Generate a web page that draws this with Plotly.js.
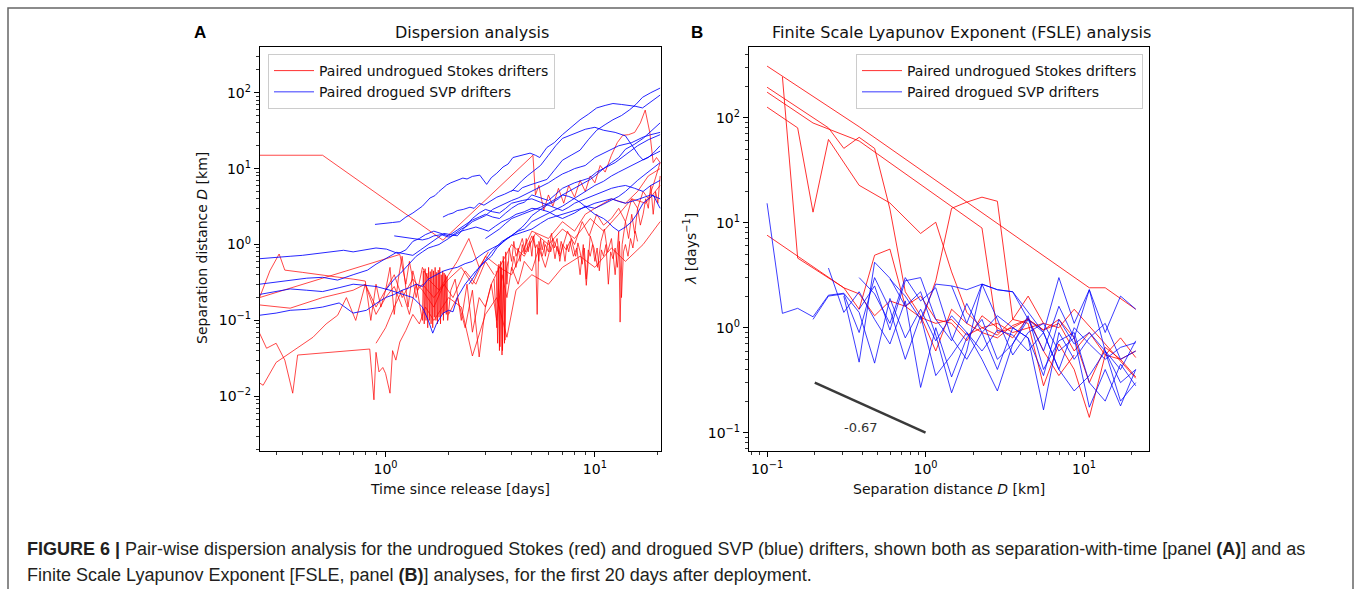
<!DOCTYPE html>
<html><head><meta charset="utf-8">
<script src="https://cdn.plot.ly/plotly-3.0.1.min.js"></script>
<style>html,body{margin:0;padding:0;background:#fff;} #chart{width:1357px;height:589px;}</style>
</head><body><div id="chart"></div>
<script>
// ---------------- Panel A : separation distance vs time ----------------
// Red: paired undrogued Stokes drifters (t in days, D in km)
const ra1_t = [0.25, 0.5, 1.88, 5.06, 5.2, 5.4, 5.7, 6.0, 6.3, 6.7, 7.1, 7.5, 8.0, 8.5, 9.0, 9.5, 10.0, 10.6, 11.2, 12.0, 12.8, 13.6, 14.5, 15.5, 16.5, 17.4, 18.3, 19.0, 19.7, 20.5];
const ra1_d = [15, 15, 1.14, 15, 4.5, 6, 2.8, 4.5, 3.2, 5.5, 3.5, 6, 4.2, 7, 5, 8, 6.5, 11, 9, 15, 22, 27.5, 28, 30, 40, 59, 30, 12, 14, 12];
const ra2_t = [0.25, 0.28, 0.31, 0.33, 0.4, 0.5, 0.6, 0.7, 0.8, 0.85, 0.9, 0.95, 1.0, 1.05, 1.1, 1.15, 1.2, 1.28, 1.35, 1.42, 1.5, 1.7, 2.0, 2.3, 2.6, 3.0, 3.5, 4.0, 4.6, 5.2, 6.0, 7.0, 8.0, 9.5, 11, 13, 15, 17.5, 20.5];
const ra2_d = [0.2, 0.45, 0.75, 0.46, 0.43, 0.4, 0.37, 0.35, 0.33, 0.1, 0.3, 0.15, 0.25, 0.5, 0.12, 0.35, 0.7, 0.15, 0.45, 0.25, 0.3, 0.2, 0.35, 0.5, 0.3, 0.7, 0.5, 1.0, 0.7, 1.4, 1.0, 1.6, 1.2, 2.2, 1.5, 2.5, 4.0, 3.5, 6.0];
const ra3_t = [3.3, 3.4, 3.45, 3.5, 3.55, 3.6, 3.65, 3.7, 3.75, 3.8, 3.9, 4.0, 4.1, 4.2, 4.35, 4.5, 4.65, 4.8, 5.0, 5.2, 5.3, 5.4, 5.6, 5.8, 6.0, 6.2, 6.4, 6.6, 6.8, 7.0, 7.3, 7.6, 7.9, 8.2, 8.5, 8.8, 9.1, 9.5, 9.9, 10.3, 10.7, 11.1, 11.5, 12.0, 12.5, 13.0, 13.2, 13.5, 14.0, 14.5, 15.0, 15.5, 16.0, 16.5, 17.0, 17.5, 18.0, 18.5, 19.0, 19.5, 20.0, 20.5];
const ra3_d = [0.35, 0.08, 0.5, 0.04, 0.6, 0.035, 0.7, 0.05, 0.8, 0.3, 0.9, 0.6, 1.1, 0.7, 0.9, 1.2, 0.8, 1.0, 1.3, 0.9, 0.12, 1.1, 0.7, 1.0, 0.8, 1.4, 0.9, 1.2, 0.6, 1.0, 0.85, 1.1, 0.7, 0.9, 0.4, 1.0, 0.29, 1.3, 0.9, 0.5, 1.1, 1.6, 0.8, 1.2, 0.4, 1.5, 0.095, 1.0, 2.0, 1.2, 2.5, 1.4, 3.0, 1.8, 2.5, 4.0, 3.0, 6.0, 2.5, 5.0, 3.5, 8.0];
const ra4_t = [0.9, 1.0, 1.1, 1.2, 1.3, 1.4, 1.5, 1.515, 1.53, 1.545, 1.56, 1.575, 1.59, 1.605, 1.62, 1.635, 1.65, 1.665, 1.68, 1.695, 1.71, 1.725, 1.74, 1.755, 1.77, 1.785, 1.8, 1.815, 1.83, 1.845, 1.86, 1.875, 1.89, 1.905, 1.92, 1.935, 1.95, 1.965, 1.98, 2.05, 2.15, 2.3, 2.45, 2.6, 2.8, 3.0, 3.2, 3.5, 4.0, 4.5, 5.0, 6.0, 7.0, 8.0, 9.0, 10.0, 12.0, 14.0, 16.0, 18.0, 20.5];
const ra4_d = [0.05, 0.08, 0.15, 0.25, 0.12, 0.3, 0.1, 0.45, 0.09, 0.48, 0.1, 0.42, 0.08, 0.5, 0.1, 0.44, 0.09, 0.47, 0.08, 0.45, 0.11, 0.5, 0.1, 0.43, 0.09, 0.46, 0.11, 0.5, 0.09, 0.4, 0.12, 0.45, 0.1, 0.42, 0.13, 0.4, 0.12, 0.38, 0.1, 0.25, 0.35, 0.1, 0.3, 0.07, 0.2, 0.15, 0.3, 0.5, 0.4, 0.8, 1.5, 1.2, 2.0, 1.5, 2.5, 3.0, 4.0, 3.5, 5.0, 8.0, 10.0];
const ra5_t = [0.25, 0.27, 0.3, 0.33, 0.36, 0.38, 0.84, 0.88, 0.9, 0.93, 0.97, 1.0, 1.05, 1.08, 1.12, 1.17, 1.25, 1.35, 1.45, 1.55, 1.7, 2.0, 2.3, 2.6, 3.0, 3.4, 3.8, 4.2, 5.0, 6.0, 7.0, 8.5, 10.0, 12.0, 14.0, 17.0, 20.5];
const ra5_d = [0.068, 0.043, 0.05, 0.03, 0.011, 0.035, 0.042, 0.009, 0.038, 0.021, 0.024, 0.02, 0.011, 0.04, 0.03, 0.052, 0.074, 0.12, 0.09, 0.15, 0.1, 0.2, 0.15, 0.034, 0.12, 0.2, 0.06, 0.25, 0.4, 0.3, 0.5, 0.7, 0.5, 0.9, 0.6, 1.0, 2.0];
const ra6_t = [0.25, 0.26, 0.3, 0.38, 0.45, 0.52, 0.59, 0.65, 0.72, 0.8, 0.9, 1.0, 1.1, 1.2, 1.35, 1.5, 1.7, 1.9, 2.1, 2.4, 2.7, 3.0, 3.3];
const ra6_d = [0.015, 0.014, 0.028, 0.043, 0.06, 0.09, 0.117, 0.2, 0.1, 0.3, 0.15, 0.25, 0.4, 0.2, 0.35, 0.25, 0.15, 0.3, 0.2, 0.45, 0.3, 0.6, 0.4];
const ra7_t = [0.25, 1.17, 1.25, 1.3, 1.4, 1.5, 1.6, 1.8, 2.0, 2.2, 2.5, 2.8, 3.1];
const ra7_d = [0.2, 0.74, 0.3, 0.6, 0.2, 0.5, 0.35, 0.25, 0.4, 0.6, 1.2, 0.5, 0.8];
const ra8_t = [0.25, 0.3, 0.35, 0.5, 0.7, 0.8, 0.9, 1.0, 1.1, 1.2];
const ra8_d = [0.16, 0.15, 0.145, 0.2, 0.25, 0.3, 0.12, 0.2, 0.28, 0.15];
const ra9_t = [2.0, 2.2, 2.4, 2.6, 2.8, 3.0, 3.2, 3.4, 3.6, 3.8, 4.0, 4.3, 4.6, 5.0, 5.4, 5.8, 6.3, 6.8, 7.4, 8.0, 8.7, 9.4, 10.2, 11, 12, 13, 14, 15, 16, 17, 18, 19, 20.5];
const ra9_d = [0.12, 0.2, 0.08, 0.25, 0.033, 0.15, 0.3, 0.1, 0.4, 0.2, 0.5, 0.3, 0.6, 0.45, 0.9, 0.5, 1.2, 0.7, 1.5, 1.0, 2.0, 1.3, 2.5, 1.8, 2.2, 3.0, 2.0, 4.0, 3.0, 5.0, 4.0, 6.0, 12];
const ra10_t = [4.0, 4.1, 4.2, 4.3, 4.4, 4.5, 4.6, 4.7, 4.8, 4.9, 5.0, 5.1, 5.2, 5.3, 5.4, 5.5, 5.6, 5.7, 5.8, 5.9, 6.0, 6.15, 6.3, 6.45, 6.6, 6.75, 6.9, 7.05, 7.2, 7.35, 7.5, 7.7, 7.9, 8.1, 8.3, 8.5, 8.7, 8.9, 9.1, 9.3, 9.5, 9.75, 10.0, 10.25, 10.5, 10.75, 11.0, 11.3, 11.6, 11.9, 12.2, 12.5, 12.8, 13.1, 13.4, 13.7, 14.0, 14.4, 14.8, 15.2, 15.6, 16.0];
const ra10_d = [0.45, 0.7, 0.5, 0.9, 0.6, 1.0, 0.75, 1.2, 0.8, 1.1, 0.7, 1.3, 0.9, 1.0, 0.6, 1.2, 0.85, 1.1, 0.7, 0.95, 1.15, 0.8, 1.0, 0.65, 0.95, 0.75, 1.1, 0.9, 0.6, 1.0, 0.8, 1.2, 0.9, 0.7, 1.05, 0.8, 0.55, 0.9, 0.35, 0.85, 0.7, 1.0, 0.6, 0.9, 0.45, 0.85, 0.7, 1.0, 0.3, 0.8, 0.65, 0.9, 0.5, 1.1, 0.2, 0.8, 1.0, 0.7, 1.2, 0.9, 1.5, 1.1];
const ra11_t = [3.38, 3.43, 3.48, 3.52, 3.57, 3.62, 3.67, 3.72, 3.77, 3.85];
const ra11_d = [0.45, 0.05, 0.55, 0.045, 0.5, 0.04, 0.6, 0.055, 0.45, 0.6];

// Blue: paired drogued SVP drifters
const ba1_t = [0.89, 1.0, 1.08, 1.17, 1.25, 1.35, 1.42, 1.5, 1.63, 1.72, 1.8, 1.96, 2.05, 2.15, 2.34, 2.45, 2.6, 2.82, 3.04, 3.2, 3.4, 3.64, 3.85, 4.06, 4.3, 4.5, 4.9, 5.2, 5.45, 5.9, 6.4, 7.0, 7.7, 8.5, 9.3, 10.2, 11.2, 12.2, 13.4, 14.6, 15.7, 16.9, 18.5, 20.5];
const ba1_d = [1.84, 1.88, 1.95, 2.0, 2.3, 2.6, 2.9, 3.2, 4.1, 4.4, 5.0, 6.1, 6.5, 6.8, 7.5, 7.3, 7.9, 8.2, 6.2, 7.6, 8.7, 10.5, 11.5, 14, 14.5, 15, 16, 15, 14, 19, 22, 28, 35, 44, 52, 63, 68, 72, 70, 68, 66, 63, 75, 93];
const ba2_t = [1.88, 2.0, 2.1, 2.2, 2.35, 2.53, 2.65, 2.8, 2.95, 3.1, 3.25, 3.4, 3.7, 4.06, 4.3, 4.5, 4.9, 5.4, 5.9, 6.4, 7.0, 7.7, 8.5, 9.3, 10.2, 11.2, 12.2, 13.4, 14.6, 15.7, 16.9, 18.5, 20.5];
const ba2_d = [2.3, 2.5, 2.6, 2.8, 2.9, 3.1, 3.0, 3.5, 3.3, 3.6, 3.9, 4.2, 4.6, 5.2, 5.0, 5.6, 6.1, 6.6, 7.2, 9.5, 12.9, 15, 17.5, 24, 32, 38, 44, 50, 59, 70, 87, 100, 115];
const ba3_t = [0.25, 0.3, 0.35, 0.4, 0.47, 0.55, 0.63, 0.7, 0.8, 0.9, 1.01, 1.08, 1.15, 1.25, 1.35, 1.45, 1.55, 1.7, 1.85, 2.0, 2.2, 2.4, 2.6, 2.8, 3.0, 3.25, 3.5, 3.75, 4.0, 4.3, 4.6, 5.0, 5.5, 6.0, 6.5, 7.0, 7.5, 8.0, 8.7, 9.4, 10.2, 11.0, 12.0, 13.0, 14.0, 15.5, 17.0, 18.5, 20.5];
const ba3_d = [0.65, 0.67, 0.7, 0.72, 0.76, 0.8, 0.84, 0.8, 0.86, 0.9, 0.87, 0.82, 0.76, 0.85, 1.1, 1.2, 1.35, 1.5, 1.4, 1.3, 1.55, 1.8, 2.1, 2.3, 2.5, 2.3, 2.2, 2.6, 3.0, 3.4, 3.6, 4.5, 4.1, 3.8, 4.6, 5.5, 6.0, 6.5, 7.0, 7.5, 9, 10, 12, 14, 18, 21, 25, 31, 40];
const ba4_t = [0.25, 0.3, 0.35, 0.42, 0.5, 0.59, 0.7, 0.82, 0.9, 0.97, 1.05, 1.13, 1.25, 1.35, 1.47, 1.6, 1.75, 1.9, 2.05, 2.2, 2.4, 2.6, 2.8, 3.0, 3.25, 3.5, 3.75, 4.0, 4.5, 5.0, 5.5, 6.0, 6.5, 7.0, 7.5, 8.0, 9.0, 10.0, 11.0, 12.0, 13.0, 14.0, 15.5, 17.0, 18.5, 20.5];
const ba4_d = [0.3, 0.32, 0.34, 0.36, 0.37, 0.34, 0.4, 0.46, 0.55, 0.62, 0.7, 0.79, 0.75, 0.72, 0.85, 1.0, 1.2, 1.4, 1.35, 1.3, 1.7, 2.2, 2.6, 2.9, 2.7, 2.6, 3.0, 3.5, 3.8, 4.0, 3.6, 3.3, 3.0, 2.8, 3.1, 3.5, 4.0, 4.5, 5.0, 5.5, 5.8, 6.0, 5.5, 5.0, 6.0, 7.0];
const ba5_t = [0.25, 0.3, 0.35, 0.42, 0.5, 0.6, 0.7, 0.81, 0.91, 1.0, 1.1, 1.2, 1.3, 1.4, 1.5, 1.6, 1.75, 1.9, 2.05, 2.2, 2.4, 2.6, 2.8, 3.0, 3.25, 3.5, 3.75, 4.0, 4.5, 5.0, 5.5, 6.0, 6.5, 7.0, 8.0, 9.0, 10.0, 11.0, 12.0, 13.0, 14.0, 15.5, 17.0, 18.5, 20.5];
const ba5_d = [0.117, 0.125, 0.136, 0.14, 0.15, 0.17, 0.125, 0.136, 0.17, 0.2, 0.22, 0.25, 0.27, 0.3, 0.28, 0.35, 0.4, 0.45, 0.48, 0.5, 0.56, 0.6, 0.7, 0.8, 0.9, 1.0, 1.15, 1.3, 1.45, 1.6, 1.9, 2.2, 2.35, 2.5, 2.8, 3.1, 3.5, 3.8, 4.0, 3.7, 3.5, 3.8, 4.2, 4.5, 4.0];
const ba6_t = [0.25, 0.3, 0.35, 0.42, 0.5, 0.6, 0.7, 0.8, 0.9, 1.05, 1.2, 1.35, 1.5, 1.6, 1.68, 1.75, 1.88, 2.0, 2.1, 2.2, 2.4, 2.7, 3.0, 3.2, 3.4, 3.8, 4.3, 4.6, 5.0, 5.5, 6.0, 6.5, 7.0, 7.7, 8.5, 9.2, 10.0, 11.0, 12.0, 13.0, 14.0, 15.5, 17.0, 18.5, 20.5];
const ba6_d = [0.22, 0.24, 0.26, 0.25, 0.24, 0.27, 0.3, 0.29, 0.28, 0.25, 0.22, 0.2, 0.15, 0.1, 0.068, 0.09, 0.124, 0.136, 0.13, 0.2, 0.3, 0.45, 0.6, 0.7, 0.9, 1.2, 1.5, 1.6, 2.0, 2.3, 2.6, 2.9, 3.2, 3.8, 4.5, 5.2, 6, 6.8, 8, 9, 10, 11.5, 13, 15, 17];
const ba7_t = [1.0, 1.1, 1.18, 1.25, 1.32, 1.4, 1.5, 1.6, 1.7, 1.8, 1.9, 2.0, 2.15, 2.3, 2.45, 2.6, 2.8, 3.0, 3.25, 3.5, 3.75, 4.0, 4.3, 4.6, 5.0, 5.3, 5.7, 6.0, 6.5, 7.0, 7.5, 8.0, 8.5, 9.0, 10.0, 11.5, 13.0, 15.0, 17.0, 18.5, 20.5];
const ba7_d = [0.25, 0.35, 0.42, 0.5, 0.6, 0.7, 0.8, 0.9, 0.95, 1.0, 1.1, 1.2, 1.4, 1.6, 1.75, 2.0, 2.2, 2.4, 2.9, 3.2, 3.5, 3.8, 4.1, 4.5, 5.0, 5.5, 6.0, 6.5, 7.5, 8.5, 9.2, 10, 10.5, 11, 14, 17, 20, 22, 26, 28, 30];
const ba8_t = [1.1, 1.2, 1.3, 1.4, 1.5, 1.6, 1.7, 1.85, 2.0, 2.15, 2.3, 2.5, 2.7, 2.9, 3.1, 3.35, 3.6, 3.9, 4.2, 4.6, 5.0, 5.5, 6.0, 6.5, 7.0, 7.5, 8.0, 9.0, 10.0, 11.0, 12.0, 13.0, 14.0, 15.0, 16.0, 17.0, 18.0, 19.0, 20.5];
const ba8_d = [1.3, 1.25, 1.2, 1.18, 1.15, 1.2, 1.3, 1.35, 1.25, 1.35, 1.5, 1.6, 1.7, 1.6, 1.5, 1.75, 2.0, 2.2, 2.5, 2.7, 3.0, 2.9, 2.7, 2.4, 2.2, 2.4, 2.6, 3.2, 3.0, 3.4, 3.8, 4.3, 5, 6, 7, 8, 9, 10, 12];
const ba9_t = [2.5, 2.65, 2.8, 3.0, 3.2, 3.4, 3.6, 3.8, 4.0, 4.25, 4.5, 4.75, 5.0, 5.3, 5.6, 6.0, 6.3, 6.7, 7.0, 7.5, 8.0, 8.5, 9.0, 9.5, 10.0, 11.0, 12.5, 14.0, 16.0, 18.0, 20.5];
const ba9_d = [0.3, 0.38, 0.5, 0.62, 0.8, 0.95, 1.1, 1.2, 1.3, 1.5, 1.7, 2.0, 2.4, 2.7, 3.0, 3.4, 3.6, 4.0, 4.5, 5.0, 5.5, 6.0, 6.5, 7.2, 8, 10, 12, 15, 20, 24, 28];
const ba10_t = [3.0, 3.25, 3.5, 3.75, 4.0, 4.5, 5.0, 5.5, 6.0, 6.5, 7.0, 7.5, 8.0, 8.5, 9.0, 9.5, 10.0, 11.0, 11.5, 12.2, 13.0, 14.0, 15.0, 16.0, 17.0, 18.0, 19.0, 20.5];
const ba10_d = [1.2, 1.4, 1.6, 1.9, 2.2, 2.5, 2.8, 3.1, 3.5, 4.0, 4.5, 4.3, 4.0, 3.6, 3.2, 2.8, 2.5, 2.2, 2.0, 1.7, 1.5, 1.7, 2.0, 2.6, 3.5, 4.0, 4.5, 3.0];
const ba11_t = [4.0, 4.25, 4.5, 4.75, 5.0, 5.5, 6.0, 6.5, 7.0, 7.5, 8.0, 8.5, 9.0, 9.5, 10.0, 11.0, 12.5, 14.0, 15.5, 16.2, 17.0, 18.0, 19.0, 20.5];
const ba11_d = [5, 6, 7, 8, 9, 11, 15, 20, 25, 27, 29, 31, 33, 34, 35, 32, 30, 27, 18, 15, 13, 14, 16, 20];

// ---------------- Panel B : FSLE ----------------
const fsleBins = [0.1, 0.125, 0.156, 0.195, 0.244, 0.305, 0.381, 0.477, 0.596, 0.745, 0.931, 1.16, 1.46, 1.82, 2.27, 2.84, 3.55, 4.44, 5.55, 6.94, 8.67, 10.8, 13.6, 17.0, 21.2];
// Red (Stokes), each with its own scale list
const rb1_x = [0.1, 0.381, 10.8, 13.6, 21.2];
const rb1_y = [310, 82, 2.4, 2.4, 1.5];
const rb2_x = [0.1, 0.244, 0.305, 0.381, 0.477, 0.596, 0.745, 0.931, 1.16, 1.46, 1.82, 2.27, 2.84, 3.55, 4.44, 5.55, 6.94, 8.67, 10.8, 13.6, 17.0, 21.2];
const rb2_y = [195, 80, 51, 65, 51, 13.5, 2.2, 1.3, 0.6, 1.5, 1.1, 0.9, 0.8, 1.05, 1.2, 0.95, 1.1, 0.6, 0.9, 0.55, 0.8, 0.52];
const rb3_x = [0.1, 0.156, 0.195, 0.244, 0.381, 0.596, 0.931, 1.16, 1.46, 1.82, 2.27, 2.84, 3.55, 4.44, 5.55, 6.94, 8.67, 10.8, 13.6, 17.0, 21.2];
const rb3_y = [126, 80, 12.6, 62, 22.7, 15.4, 7.9, 10.1, 3.4, 1.4, 1.0, 0.85, 1.2, 1.1, 0.28, 0.7, 0.4, 0.14, 0.55, 0.5, 0.34];
const rb4_x = [0.125, 0.156, 0.305, 0.381, 0.477, 0.596, 0.745, 0.931, 1.16, 1.46, 1.82, 2.27, 2.84, 3.55, 4.44, 5.55, 6.94, 8.67];
const rb4_y = [245, 4.6, 2.4, 1.5, 4.9, 5.6, 1.6, 2.0, 1.2, 1.1, 0.75, 1.3, 1.0, 0.8, 1.25, 0.6, 0.35, 0.55];
const rb5_x = [0.1, 0.305, 0.381, 0.477, 0.596, 0.745, 0.931, 1.16, 1.46, 1.82, 2.27, 2.84, 3.55, 4.44, 5.55, 6.94, 8.67, 13.6, 21.2];
const rb5_y = [7.6, 2.4, 2.1, 1.3, 1.8, 1.6, 1.25, 1.1, 1.2, 0.85, 1.0, 1.1, 0.9, 1.0, 1.1, 1.0, 1.5, 0.7, 0.33];
const rb6_x = [0.1, 0.195, 0.381, 2.27, 2.84, 3.55, 4.44, 5.55, 6.94, 8.67, 10.8, 13.6, 17.0, 21.2];
const rb6_y = [175, 89, 60, 8.9, 0.9, 1.0, 1.2, 0.95, 1.2, 0.8, 0.3, 0.65, 0.5, 0.6];
const rb7_x = [0.931, 1.16, 1.46, 1.82, 2.27, 2.84, 3.55, 4.44, 5.55];
const rb7_y = [1.1, 2.8, 13.7, 15.7, 17.5, 16, 1.2, 2.0, 1.1];
// Blue (SVP), values on fsleBins (null = no value)
const bb1 = [15.3, 1.37, 1.53, 1.27, 2.04, 2.13, 1.4, 0.46, 1.9, 0.8, 1.5, 0.75, 1.3, 0.9, 0.6, 0.95, 0.85, 0.6, 0.9, 0.4, 1.0, 0.7, 0.5, 0.65, 0.72];
const bb2 = [null, null, null, null, 3.7, 1.4, 2.2, 1.2, 0.7, 1.8, 0.27, 1.0, 0.34, 0.8, 1.2, 0.5, 0.7, 1.3, 0.4, 0.75, 0.9, 0.3, 0.2, 0.45, 0.28];
const bb3 = [null, null, null, null, null, 2.0, 0.47, 4.2, 2.96, 1.6, 2.2, 0.85, 0.24, 0.6, 2.6, 1.2, 0.55, 0.9, 1.1, 0.6, 0.8, 0.175, 0.4, 0.18, 0.4];
const bb4 = [null, null, null, null, null, null, 3.0, 2.1, 1.1, 3.0, 1.8, 2.4, 0.8, 0.5, 0.9, 1.3, 1.0, 0.8, 0.165, 0.9, 0.5, 0.8, 1.1, 0.5, 0.6];
const bb5 = [null, null, null, null, null, null, null, null, 2.9, 2.0, 1.2, 2.6, 2.5, 1.1, 2.6, 2.3, 2.2, 1.2, 0.6, 1.6, 0.8, 2.3, 0.9, 2.0, 1.5];
const bb6 = [null, null, null, null, null, null, 1.5, 2.5, 0.95, 2.8, 3.0, 1.2, 0.75, 1.7, 0.9, 0.4, 1.0, 0.8, 0.35, 1.2, 0.7, 0.9, 0.6, 0.3, 0.4];
const bb7 = [null, null, null, null, null, null, null, null, null, null, null, null, 2.5, 2.3, 2.6, 2.3, 2.2, 1.4, 0.9, 3.0, 1.1, 2.3, 0.6, 0.4, 0.75];
const bb8 = [null, null, null, 1.2, 2.0, 2.1, 0.9, 3.0, 1.5, 0.5, 1.3, 0.35, 0.55, 0.9, 0.5, 0.25, 0.7, 1.2, 0.9, 0.4, 0.25, 0.35, 0.6, 0.2, 0.3];
// reference slope line (-0.67)
const slopeX = [0.2, 1.0];
const slopeY = [0.3, 0.1];
const slopeLabel = '-0.67';

// tick labels
const tickValsA_x = [1, 10];
const tickTextA_x = ['10<sup>0</sup>', '10<sup>1</sup>'];
const tickValsA_y = [0.01, 0.1, 1, 10, 100];
const tickTextA_y = ['10<sup>−2</sup>', '10<sup>−1</sup>', '10<sup>0</sup>', '10<sup>1</sup>', '10<sup>2</sup>'];
const tickValsB_x = [0.1, 1, 10];
const tickTextB_x = ['10<sup>−1</sup>', '10<sup>0</sup>', '10<sup>1</sup>'];
const tickValsB_y = [0.1, 1, 10, 100];
const tickTextB_y = ['10<sup>−1</sup>', '10<sup>0</sup>', '10<sup>1</sup>', '10<sup>2</sup>'];
const minorA_x = [0.3, 0.4, 0.5, 0.6, 0.7, 0.8, 0.9, 2, 3, 4, 5, 6, 7, 8, 9, 20];
const minorA_y = [0.002, 0.003, 0.004, 0.005, 0.006, 0.007, 0.008, 0.009, 0.02, 0.03, 0.04, 0.05, 0.06, 0.07, 0.08, 0.09, 0.2, 0.3, 0.4, 0.5, 0.6, 0.7, 0.8, 0.9, 2, 3, 4, 5, 6, 7, 8, 9, 20, 30, 40, 50, 60, 70, 80, 90, 200, 300];
const minorB_x = [0.08, 0.09, 0.2, 0.3, 0.4, 0.5, 0.6, 0.7, 0.8, 0.9, 2, 3, 4, 5, 6, 7, 8, 9, 20];
const minorB_y = [0.07, 0.08, 0.09, 0.2, 0.3, 0.4, 0.5, 0.6, 0.7, 0.8, 0.9, 2, 3, 4, 5, 6, 7, 8, 9, 20, 30, 40, 50, 60, 70, 80, 90, 200, 300, 400];

const legendNames = ['Paired undrogued Stokes drifters', 'Paired drogued SVP drifters'];

// ---------------- build ----------------
const W = 1357, H = 589;
const px = v => v / W, py = v => 1 - v / H;
const RED = 'rgba(255,0,0,0.9)', BLUE = 'rgba(0,0,255,0.85)';
const traces = [];
function line(x, y, color, w, xa, ya) {
  traces.push({x: x, y: y, type: 'scatter', mode: 'lines', xaxis: xa, yaxis: ya,
    line: {color: color, width: w}, showlegend: false, hoverinfo: 'skip', connectgaps: true});
}
[[ra1_t, ra1_d], [ra2_t, ra2_d], [ra3_t, ra3_d], [ra4_t, ra4_d], [ra5_t, ra5_d], [ra6_t, ra6_d], [ra7_t, ra7_d], [ra8_t, ra8_d], [ra9_t, ra9_d], [ra10_t, ra10_d], [ra11_t, ra11_d]]
  .forEach(p => line(p[0], p[1], RED, 0.8, 'x', 'y'));
[[ba1_t, ba1_d], [ba2_t, ba2_d], [ba3_t, ba3_d], [ba4_t, ba4_d], [ba5_t, ba5_d], [ba6_t, ba6_d], [ba7_t, ba7_d], [ba8_t, ba8_d], [ba9_t, ba9_d], [ba10_t, ba10_d], [ba11_t, ba11_d]]
  .forEach(p => line(p[0], p[1], BLUE, 1, 'x', 'y'));
[[rb1_x, rb1_y], [rb2_x, rb2_y], [rb3_x, rb3_y], [rb4_x, rb4_y], [rb5_x, rb5_y], [rb6_x, rb6_y], [rb7_x, rb7_y]]
  .forEach(p => line(p[0], p[1], RED, 0.9, 'x2', 'y2'));
[bb1, bb2, bb3, bb4, bb5, bb6, bb7, bb8].forEach(b => line(fsleBins, b, BLUE, 0.9, 'x2', 'y2'));
line(slopeX, slopeY, '#3a3a3a', 2.5, 'x2', 'y2');

// legend entries
[['x', 'y', 'legend'], ['x2', 'y2', 'legend2']].forEach(a => {
  traces.push({x: [null], y: [null], type: 'scatter', mode: 'lines', xaxis: a[0], yaxis: a[1], legend: a[2],
    name: legendNames[0], line: {color: '#ff3030', width: 1}});
  traces.push({x: [null], y: [null], type: 'scatter', mode: 'lines', xaxis: a[0], yaxis: a[1], legend: a[2],
    name: legendNames[1], line: {color: '#7a7aff', width: 1.6}});
});

const tickFont = {family: 'DejaVu Sans', size: 14, color: '#000'};
function axis(minorVals, extra) {
  return Object.assign({type: 'log', showline: true, mirror: true, linecolor: '#000', linewidth: 1.2,
    ticks: 'outside', ticklen: 5, tickwidth: 1, tickcolor: '#000', showgrid: false, zeroline: false,
    tickfont: tickFont, tickmode: 'array', fixedrange: true,
    minor: {tickmode: 'array', tickvals: minorVals, ticks: 'outside', ticklen: 2.5, tickwidth: 0.8, tickcolor: '#000', showgrid: false}}, extra);
}
const ann = (x, y, text, opt) => Object.assign({xref: 'paper', yref: 'paper', x: px(x), y: py(y), text: text,
  xanchor: 'center', yanchor: 'middle',
  showarrow: false, font: {family: 'DejaVu Sans', size: 14, color: '#111'}}, opt || {});
const capFont = {family: 'Liberation Sans, Arial', size: 18, color: '#231f20'};

const layout = {
  width: W, height: H, margin: {l: 0, r: 0, t: 0, b: 0},
  paper_bgcolor: '#fff', plot_bgcolor: '#fff',
  xaxis: axis(minorA_x, {domain: [px(260), px(661)], range: [-0.6, 1.316], anchor: 'y', tickvals: tickValsA_x, ticktext: tickTextA_x}),
  yaxis: axis(minorA_y, {domain: [py(451), py(47)], range: [-2.72, 2.602], anchor: 'x', tickvals: tickValsA_y, ticktext: tickTextA_y}),
  xaxis2: axis(minorB_x, {domain: [px(749), px(1149)], range: [-1.114, 1.41], anchor: 'y2', tickvals: tickValsB_x, ticktext: tickTextB_x}),
  yaxis2: axis(minorB_y, {domain: [py(451), py(47)], range: [-1.174, 2.673], anchor: 'x2', tickvals: tickValsB_y, ticktext: tickTextB_y}),
  legend: {x: px(268), y: py(54), xanchor: 'left', yanchor: 'top', bgcolor: 'rgba(255,255,255,0.85)',
    bordercolor: '#cccccc', borderwidth: 1, font: {family: 'DejaVu Sans', size: 14, color: '#111'}, tracegroupgap: 0, itemwidth: 40},
  legend2: {x: px(856), y: py(54), xanchor: 'left', yanchor: 'top', bgcolor: 'rgba(255,255,255,0.85)',
    bordercolor: '#cccccc', borderwidth: 1, font: {family: 'DejaVu Sans', size: 14, color: '#111'}, tracegroupgap: 0, itemwidth: 40},
  shapes: [{type: 'rect', xref: 'paper', yref: 'paper', x0: px(8), x1: px(1353), y0: -0.05, y1: py(8),
    line: {color: '#666', width: 1.5}, fillcolor: 'rgba(0,0,0,0)'}],
  annotations: [
    ann(200, 33, '<b>A</b>', {font: {family: 'Liberation Sans', size: 17, color: '#000'}}),
    ann(697, 33, '<b>B</b>', {font: {family: 'Liberation Sans', size: 17, color: '#000'}}),
    ann(471.5, 33, 'Dispersion analysis', {font: {family: 'DejaVu Sans', size: 16, color: '#111'}}),
    ann(961, 33, 'Finite Scale Lyapunov Exponent (FSLE) analysis', {font: {family: 'DejaVu Sans', size: 16, color: '#111'}}),
    ann(460, 489, 'Time since release [days]'),
    ann(949, 489, 'Separation distance <i>D</i> [km]'),
    ann(202, 248, 'Separation distance <i>D</i> [km]', {textangle: -90}),
    ann(690, 249, '<i>λ</i> [days<sup>−1</sup>]', {textangle: -90}),
    {xref: 'x2', yref: 'y2', x: Math.log10(0.39), y: Math.log10(0.112), text: slopeLabel, showarrow: false,
      xanchor: 'center', yanchor: 'middle', font: {family: 'DejaVu Sans', size: 13, color: '#333'}},
    ann(25, 549, '<b>FIGURE 6 |</b> Pair-wise dispersion analysis for the undrogued Stokes (red) and drogued SVP (blue) drifters, shown both as separation-with-time [panel <b>(A)</b>] and as',
      {xanchor: 'left', font: capFont}),
    ann(25, 575, 'Finite Scale Lyapunov Exponent [FSLE, panel <b>(B)</b>] analyses, for the first 20 days after deployment.',
      {xanchor: 'left', font: capFont})
  ]
};
Plotly.newPlot('chart', traces, layout, {staticPlot: true, displayModeBar: false});
</script></body></html>
